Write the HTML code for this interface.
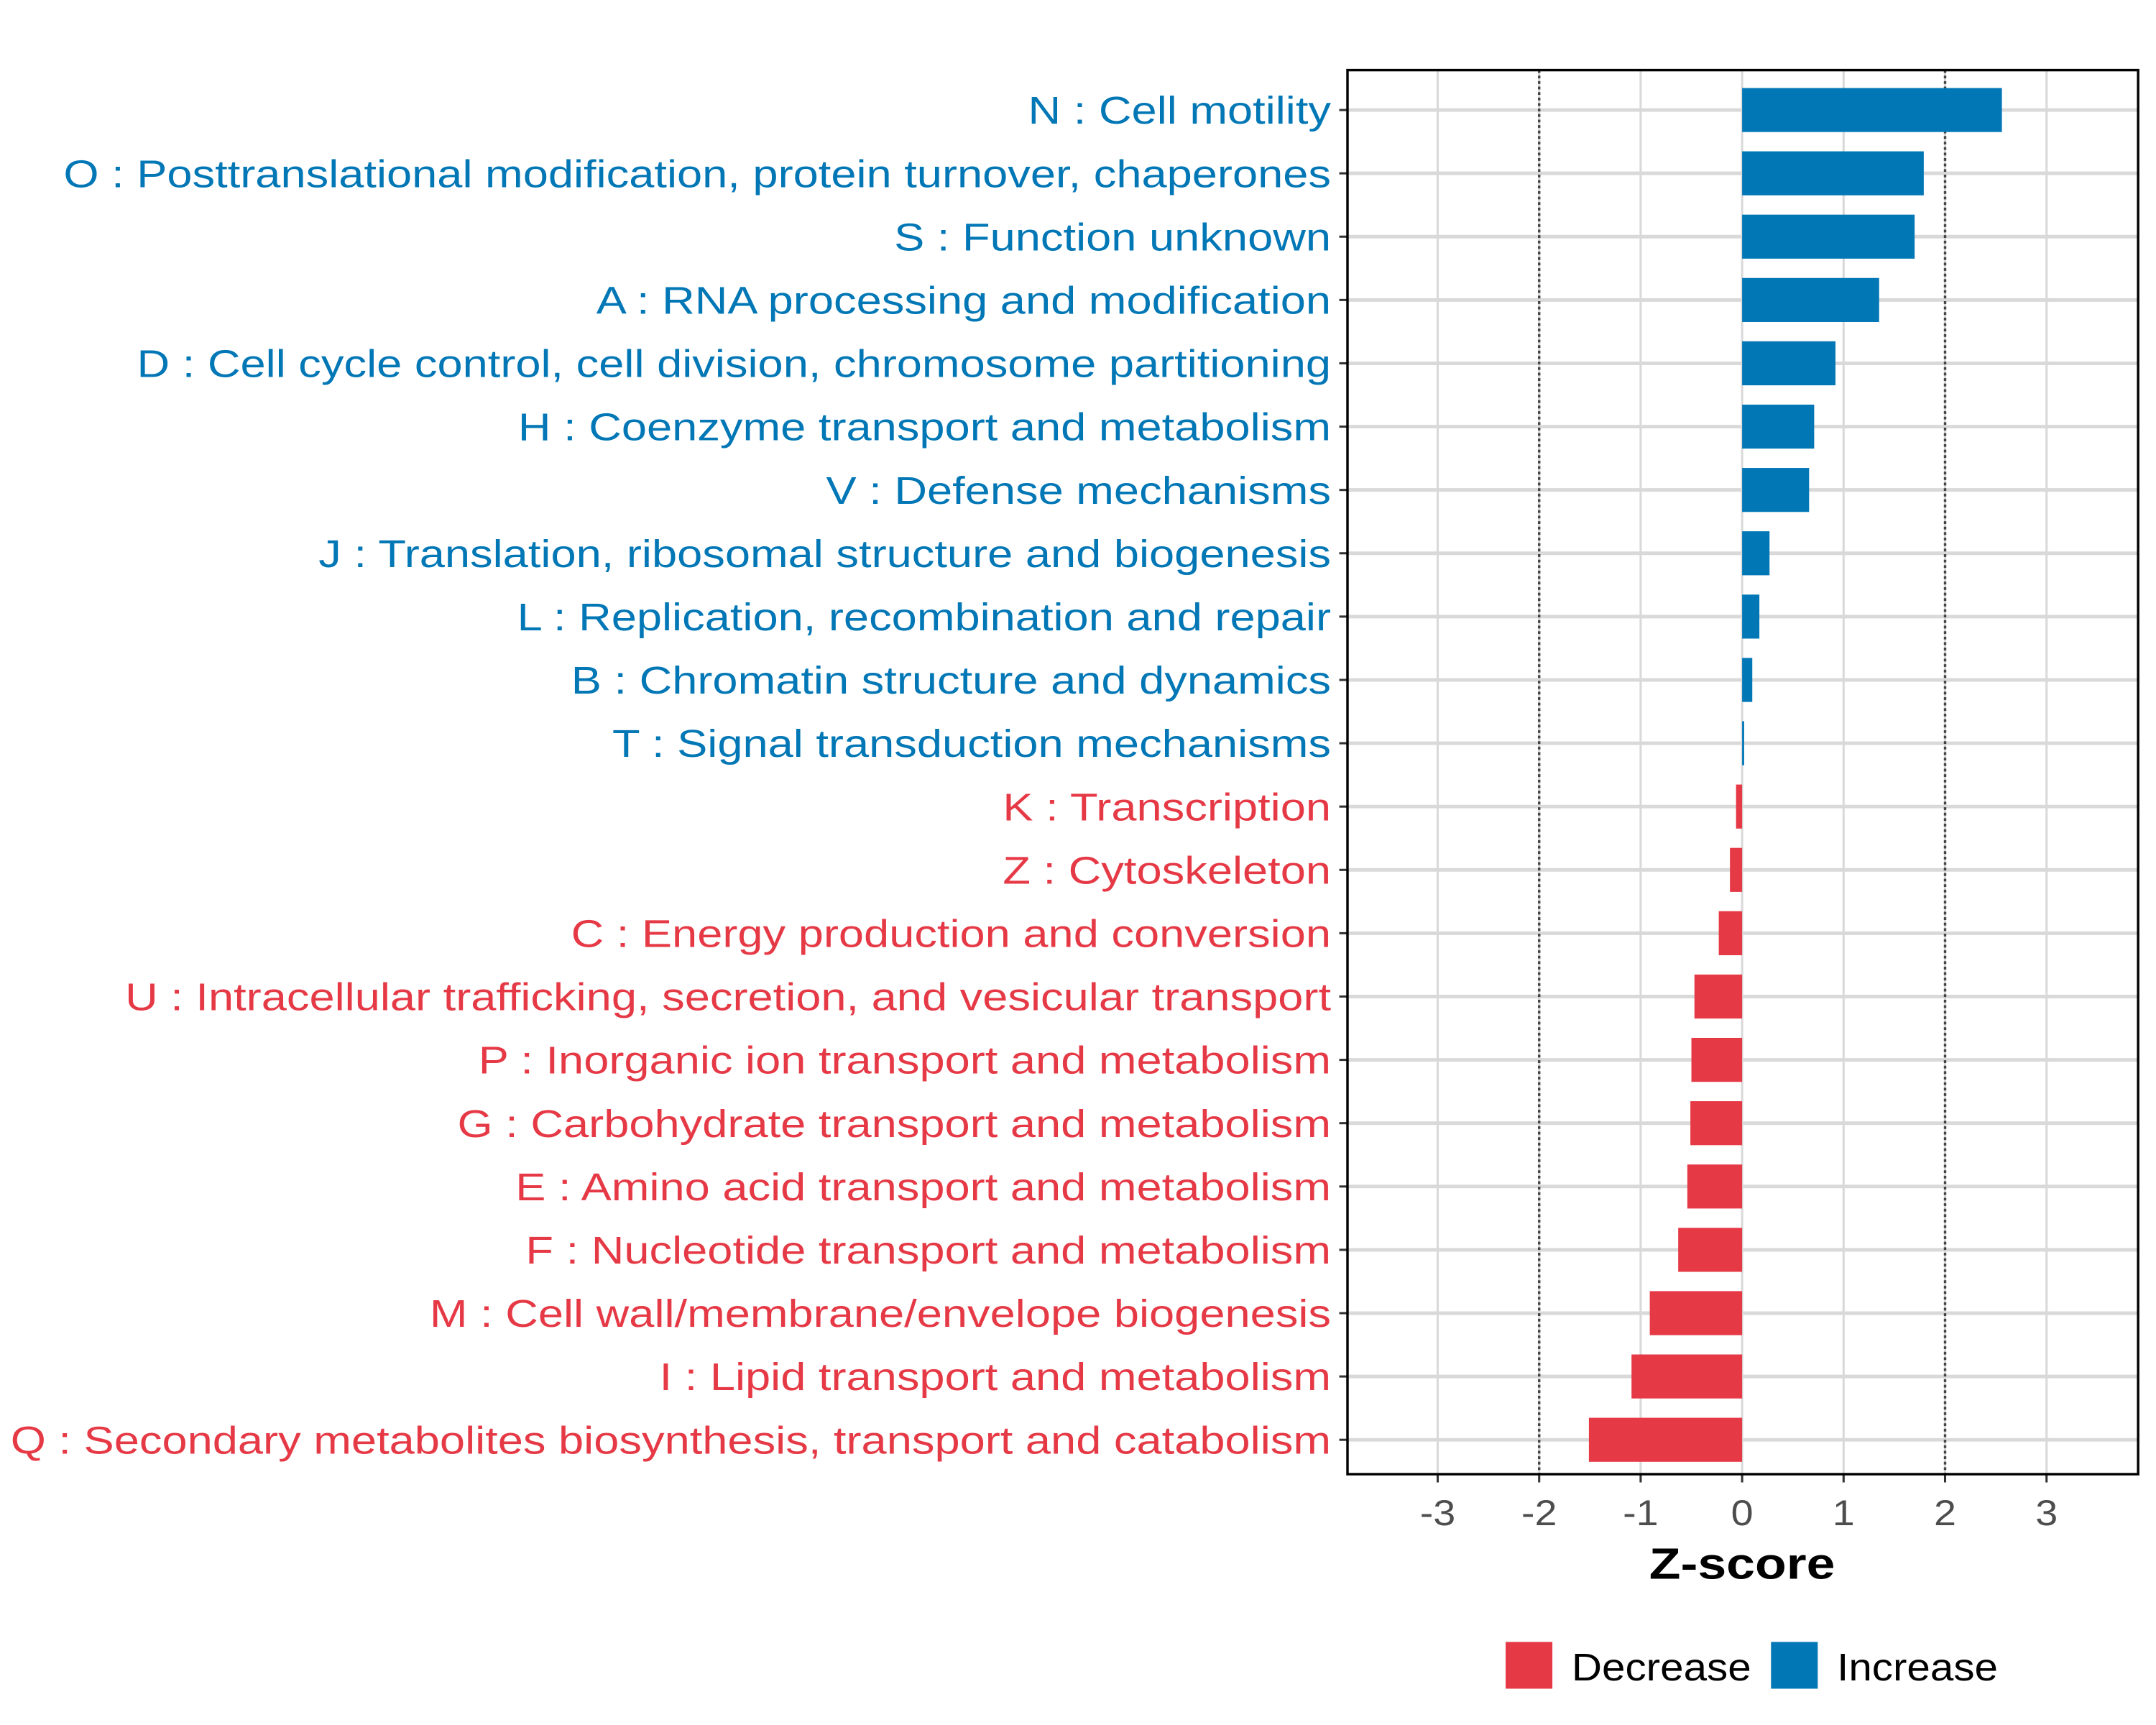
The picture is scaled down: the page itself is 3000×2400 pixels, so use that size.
<!DOCTYPE html>
<html><head><meta charset="utf-8"><style>
html,body{margin:0;padding:0;background:#fff;}
svg{display:block;font-family:"Liberation Sans",Arial,sans-serif;}
</style></head><body>
<svg id="chart" width="3000" height="2400" viewBox="0 0 1568 1254.4" xmlns="http://www.w3.org/2000/svg">
<g id="grid"></g>
<g id="bars"></g>
<g id="axes"></g>
<text class="st" data-s="1.17" x="1267" y="1148" text-anchor="middle" font-size="32" font-weight="bold" fill="#000">Z-score</text>
<g>
<rect x="1095" y="1194" width="34" height="34" fill="#E63946"/>
<text class="st" data-s="1.09" x="1143" y="1222" font-size="28" fill="#000">Decrease</text>
<rect x="1288" y="1194" width="34" height="34" fill="#0277B6"/>
<text class="st" data-s="1.09" x="1336" y="1222" font-size="28" fill="#000">Increase</text>
</g>
</svg>
<script>
const categories = ["N : Cell motility","O : Posttranslational modification, protein turnover, chaperones","S : Function unknown","A : RNA processing and modification","D : Cell cycle control, cell division, chromosome partitioning","H : Coenzyme transport and metabolism","V : Defense mechanisms","J : Translation, ribosomal structure and biogenesis","L : Replication, recombination and repair","B : Chromatin structure and dynamics","T : Signal transduction mechanisms","K : Transcription","Z : Cytoskeleton","C : Energy production and conversion","U : Intracellular trafficking, secretion, and vesicular transport","P : Inorganic ion transport and metabolism","G : Carbohydrate transport and metabolism","E : Amino acid transport and metabolism","F : Nucleotide transport and metabolism","M : Cell wall/membrane/envelope biogenesis","I : Lipid transport and metabolism","Q : Secondary metabolites biosynthesis, transport and catabolism"];
const zscores = [2.56,1.79,1.70,1.35,0.92,0.71,0.66,0.27,0.17,0.10,0.02,-0.06,-0.12,-0.23,-0.47,-0.50,-0.51,-0.54,-0.63,-0.91,-1.09,-1.51];
const xTicks = [-3,-2,-1,0,1,2,3];
const xTickLabels = ["-3","-2","-1","0","1","2","3"];
const thresholds = [-2,2];

const NS="http://www.w3.org/2000/svg";
const L=980,R=1555,T=51,B=1072;
function xs(v){return 1267+v*73.8;}
function ys(i){return 80+i*((1047-80)/(categories.length-1));}
function mk(tag,attrs,parent){const e=document.createElementNS(NS,tag);for(const k in attrs)e.setAttribute(k,attrs[k]);parent.appendChild(e);return e;}
const grid=document.getElementById('grid'),bars=document.getElementById('bars'),axes=document.getElementById('axes');
mk('rect',{x:L,y:T,width:R-L,height:B-T,fill:'#fff'},grid);
xTicks.forEach((t,i)=>{
  const l=mk('line',{x1:xs(t),x2:xs(t),y1:T,y2:B,stroke:'#d9d9d9','stroke-width':1.6},grid);
  
  
  const tk=mk('line',{x1:xs(t),x2:xs(t),y1:B,y2:B+6,stroke:'#333','stroke-width':1.6},axes);
  
  
  const tx=mk('text',{x:xs(t),y:B+37,'text-anchor':'middle','font-size':26,fill:'#4d4d4d',class:'st','data-s':1.12},axes);
  tx.textContent=xTickLabels[i];
  
  
});
categories.forEach((c,i)=>{
  const g=mk('line',{x1:L,x2:R,y1:ys(i),y2:ys(i),stroke:'#d9d9d9','stroke-width':2.6},grid);
  
  
});
thresholds.forEach(t=>{
  const d=mk('line',{x1:xs(t),x2:xs(t),y1:T,y2:B,stroke:'#444','stroke-width':1.8,'stroke-dasharray':'2,2'},grid);
  
  
});
categories.forEach((c,i)=>{
  const v=zscores[i];const col=v>=0?'#0277B6':'#E63946';
  const x0=Math.min(xs(0),xs(v)),w=Math.abs(xs(v)-xs(0));
  const r=mk('rect',{x:x0,y:ys(i)-16,width:Math.max(w,0.8),height:32,fill:col},bars);
  
  
  const tk=mk('line',{x1:L-6,x2:L,y1:ys(i),y2:ys(i),stroke:'#333','stroke-width':1.6},axes);
  
  
  const tx=mk('text',{x:L-12,y:ys(i)+10,'text-anchor':'end','font-size':28,fill:col,class:'st','data-s':1.18},axes);
  tx.textContent=c;
  
  
});
const border=mk('rect',{x:L,y:T,width:R-L,height:B-T,fill:'none',stroke:'#000','stroke-width':1.8},axes);


document.querySelectorAll('text.st').forEach(t=>{
  const s=parseFloat(t.getAttribute('data-s'));
  const w=t.getComputedTextLength();
  t.setAttribute('textLength',(w*s).toFixed(1));
  t.setAttribute('lengthAdjust','spacingAndGlyphs');
});
</script>
</body></html>
